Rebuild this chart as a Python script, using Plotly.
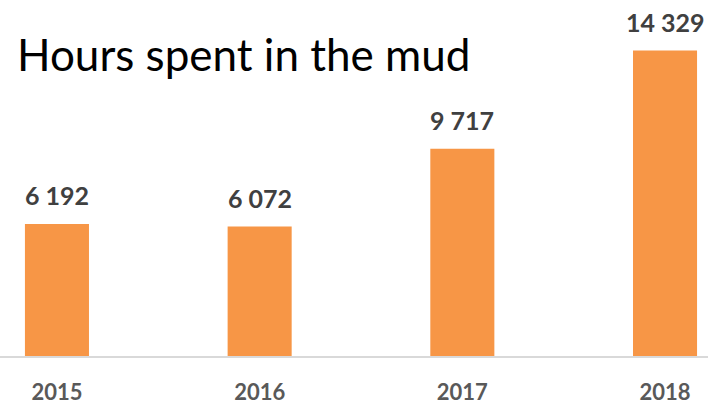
import plotly.graph_objects as go

years = ["2015", "2016", "2017", "2018"]
hours = [6192, 6072, 9717, 14329]
labels = ["6 192", "6 072", "9 717", "14 329"]
title_text = "Hours spent in the mud"

BAR_COLOR = "#F79646"
W, H = 708, 404
PLOT_H = 356

fig = go.Figure()
fig.add_trace(go.Bar(
    x=years, y=hours, width=0.316,
    marker=dict(color=BAR_COLOR, line=dict(width=0)),
    hoverinfo="skip",
))

annotations = []
for i, (v, lab) in enumerate(zip(hours, labels)):
    annotations.append(dict(
        x=i, y=v, xref="x", yref="y", text=f"<b>{lab}</b>",
        showarrow=False, yanchor="bottom", xanchor="center", yshift=12,
        font=dict(family="Lato", size=25, color="#404040"),
    ))
annotations.append(dict(
    x=15 / W, y=1 - 54 / PLOT_H, xref="paper", yref="paper", text=title_text,
    showarrow=False, xanchor="left", yanchor="middle",
    font=dict(family="Lato", size=44, color="#000000"),
))

fig.update_layout(
    width=W, height=H,
    margin=dict(l=0, r=0, t=0, b=H - PLOT_H),
    paper_bgcolor="white", plot_bgcolor="white",
    showlegend=False,
    annotations=annotations,
    xaxis=dict(
        type="category", range=[-0.281, 3.212],
        showline=True, linecolor="#D9D9D9", linewidth=2,
        showgrid=False, zeroline=False,
        ticks="", ticklabelstandoff=16,
        tickfont=dict(family="Lato", size=22, color="#595959"),
        tickprefix="<b>", ticksuffix="</b>",
    ),
    yaxis=dict(
        range=[0, 14329 * PLOT_H / 305.5],
        visible=False, showgrid=False, zeroline=False,
    ),
)

fig.write_html("out.html", config={"displayModeBar": False},
               post_script="document.body.style.margin='0';")
